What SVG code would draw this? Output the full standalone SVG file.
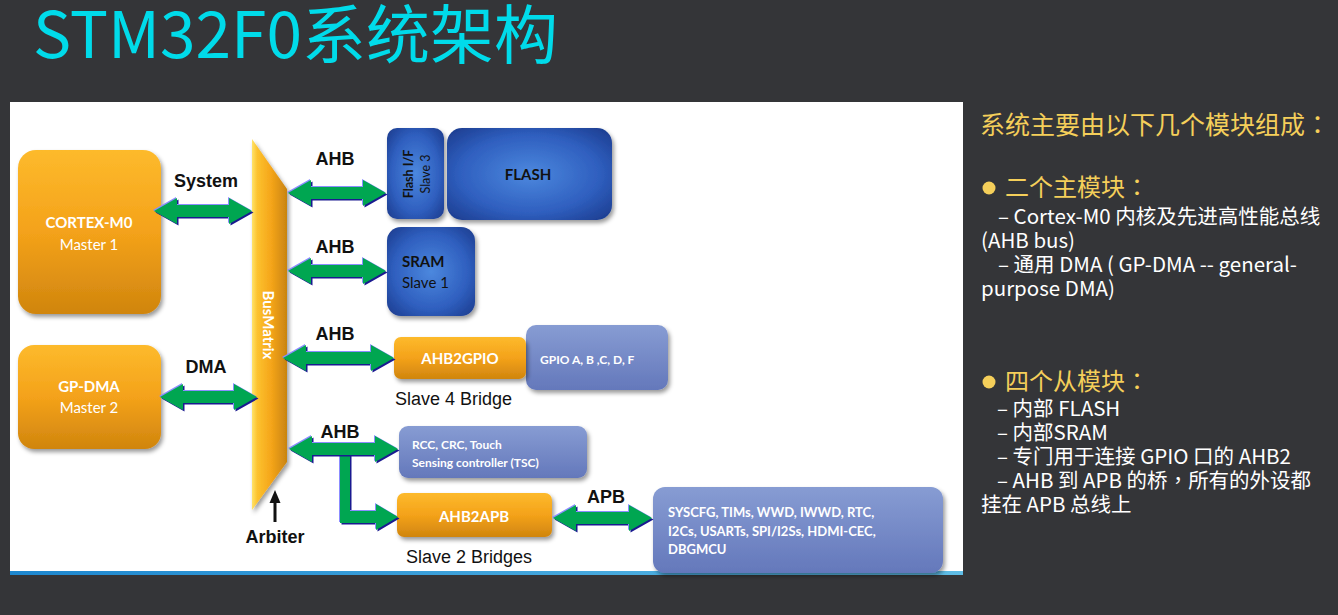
<svg xmlns="http://www.w3.org/2000/svg" xmlns:xlink="http://www.w3.org/1999/xlink" width="1338" height="615" viewBox="0 0 1338 615">
<style>
.lbl{font-family:"Liberation Sans",Arial,sans-serif;font-weight:bold;font-size:18px;fill:#111;}
.cap{font-family:"Liberation Sans",Arial,sans-serif;font-size:18px;fill:#111;}
.bx{font-family:Lato,"Open Sans",sans-serif;fill:#fff;}
.b{font-weight:bold;}
.sh{fill:#1a1a90;}
.hl{fill:#8c8cff;}
.gr{fill:#00a651;}
.yt{font-family:"Noto Sans CJK SC",sans-serif;fill:#f5cf5a;}
.wt{font-family:"Noto Sans CJK SC",sans-serif;fill:#ffffff;font-size:20.5px;}
.tc{font-family:"Noto Sans CJK TC",sans-serif;}
</style>
<defs>
<linearGradient id="og" x1="0" y1="0" x2="0" y2="1">
<stop offset="0" stop-color="#fdba2c"/><stop offset="0.5" stop-color="#f4a21a"/><stop offset="1" stop-color="#d0850e"/>
</linearGradient>
<radialGradient id="bg" cx="0.5" cy="0.5" r="0.7">
<stop offset="0" stop-color="#4c88de"/><stop offset="0.6" stop-color="#2f5fbf"/><stop offset="1" stop-color="#1b3a8c"/>
</radialGradient>
<linearGradient id="lb" x1="0" y1="0" x2="0" y2="1">
<stop offset="0" stop-color="#879cd3"/><stop offset="1" stop-color="#6478bb"/>
</linearGradient>
<linearGradient id="busg" x1="0" y1="0" x2="1" y2="0">
<stop offset="0" stop-color="#ffe36a"/><stop offset="0.15" stop-color="#fcc22e"/><stop offset="0.55" stop-color="#f5a51a"/><stop offset="1" stop-color="#c98410"/>
</linearGradient>
<linearGradient id="strip" x1="0" y1="0" x2="1" y2="0">
<stop offset="0" stop-color="#1d87cf"/><stop offset="1" stop-color="#5fbde6"/>
</linearGradient>
<filter id="ds" x="-10%" y="-10%" width="125%" height="130%">
<feDropShadow dx="2" dy="3" stdDeviation="2" flood-color="#000" flood-opacity="0.4"/>
</filter>
<polygon id="a_sys" points="154,211 177,198 177,205 229,205 229,198 252,211 229,224 229,217 177,217 177,224"/>
<polygon id="a_dma" points="160,397 183,384 183,391 234,391 234,384 257,397 234,410 234,403 183,403 183,410"/>
<polygon id="a_h1" points="288,193 311,180 311,187 363,187 363,180 386,193 363,206 363,199 311,199 311,206"/>
<polygon id="a_h2" points="288,271 311,258 311,265 363,265 363,258 386,271 363,284 363,277 311,277 311,284"/>
<polygon id="a_h3" points="283,358 306,345 306,352 371,352 371,345 394,358 371,371 371,364 306,364 306,371"/>
<polygon id="a_h4" points="289,449 312,436 312,443 375,443 375,436 398,449 375,462 375,455 312,455 312,462"/>
<polygon id="a_br" points="340,452 350,452 350,511 376,511 376,504 398,517 376,530 376,523 340,523"/>
<polygon id="a_apb" points="553,518 576,505 576,512 629,512 629,505 652,518 629,531 629,524 576,524 576,531"/>
</defs>

<rect x="0" y="0" width="1338" height="615" fill="#343538"/>
<rect x="10" y="102" width="953" height="473" fill="#ffffff"/>
<rect x="10" y="571" width="953" height="4" fill="url(#strip)"/>

<text x="33" y="58" font-family="'Noto Sans CJK SC',sans-serif" font-size="64" fill="#00dbea">STM32F0系统架构</text>

<g id="cortex">
<rect x="18" y="150" width="143" height="164" rx="18" fill="url(#og)" filter="url(#ds)"/>
<text class="bx b" x="89" y="228" font-size="15" text-anchor="middle">CORTEX-M0</text>
<text class="bx" x="89" y="250" font-size="15" text-anchor="middle">Master 1</text>
</g>
<g id="gpdma">
<rect x="18" y="345" width="143" height="104" rx="16" fill="url(#og)" filter="url(#ds)"/>
<text class="bx b" x="89" y="392" font-size="15" text-anchor="middle">GP-DMA</text>
<text class="bx" x="89" y="413" font-size="15" text-anchor="middle">Master 2</text>
</g>
<g id="busmatrix">
<polygon points="252,139 287,189 287,462 252,510" fill="url(#busg)" filter="url(#ds)"/>
<text class="bx b" x="269" y="325" font-size="15" text-anchor="middle" dominant-baseline="central" transform="rotate(90 269 325)">BusMatrix</text>
</g>
<g id="arbiter">
<rect x="273.5" y="500" width="3" height="22" fill="#111"/>
<polygon points="275,490 269.5,503 280.5,503" fill="#111"/>
<text class="lbl" x="275" y="543" text-anchor="middle">Arbiter</text>
</g>
<g id="flashif">
<rect x="387" y="128" width="57" height="91" rx="10" fill="url(#bg)" filter="url(#ds)"/>
<text class="bx b" x="0" y="0" font-size="12.5" text-anchor="middle" style="fill:#111" transform="translate(413 174) rotate(-90)">Flash I/F</text>
<text class="bx" x="0" y="0" font-size="12.5" text-anchor="middle" style="fill:#111" transform="translate(430 174) rotate(-90)">Slave 3</text>
</g>
<g id="flash">
<rect x="447" y="128" width="165" height="92" rx="15" fill="url(#bg)" filter="url(#ds)"/>
<text class="bx b" x="528" y="180" font-size="15" text-anchor="middle" style="fill:#111">FLASH</text>
</g>
<g id="sram">
<rect x="387" y="227" width="88" height="89" rx="14" fill="url(#bg)" filter="url(#ds)"/>
<text class="bx b" x="402" y="267" font-size="15" style="fill:#111">SRAM</text>
<text class="bx" x="402" y="288" font-size="15" style="fill:#111">Slave 1</text>
</g>
<g id="gpio">
<rect x="526" y="325" width="142" height="65" rx="10" fill="url(#lb)" filter="url(#ds)"/>
<text class="bx b" x="540" y="364" font-size="12">GPIO A, B ,C, D, F</text>
</g>
<g id="ahb2gpio">
<rect x="394" y="337" width="132" height="42" rx="7" fill="url(#og)" filter="url(#ds)"/>
<text class="bx b" x="460" y="364" font-size="15" text-anchor="middle">AHB2GPIO</text>
<text class="cap" x="395" y="405">Slave 4 Bridge</text>
</g>
<g id="rcc">
<rect x="399" y="426" width="188" height="52" rx="9" fill="url(#lb)" filter="url(#ds)"/>
<text class="bx b" x="412" y="449" font-size="12">RCC, CRC, Touch</text>
<text class="bx b" x="412" y="467" font-size="12">Sensing controller (TSC)</text>
</g>
<g id="ahb2apb">
<rect x="397" y="493" width="155" height="44" rx="7" fill="url(#og)" filter="url(#ds)"/>
<text class="bx b" x="474" y="522" font-size="15" text-anchor="middle">AHB2APB</text>
<text class="cap" x="406" y="563">Slave 2 Bridges</text>
</g>
<g id="apbperiph">
<rect x="653" y="487" width="290" height="86" rx="12" fill="url(#lb)" filter="url(#ds)"/>
<text class="bx b" x="668" y="517" font-size="13">SYSCFG, TIMs, WWD, IWWD, RTC,</text>
<text class="bx b" x="668" y="536" font-size="13">I2Cs, USARTs, SPI/I2Ss, HDMI-CEC,</text>
<text class="bx b" x="668" y="554" font-size="13">DBGMCU</text>
</g>

<g id="connectors">
<use xlink:href="#a_sys" class="sh" transform="translate(1.5,1.5)"/><use xlink:href="#a_sys" class="hl" transform="translate(-1,-1)"/><use xlink:href="#a_sys" class="gr"/>
<use xlink:href="#a_dma" class="sh" transform="translate(1.5,1.5)"/><use xlink:href="#a_dma" class="hl" transform="translate(-1,-1)"/><use xlink:href="#a_dma" class="gr"/>
<use xlink:href="#a_h1" class="sh" transform="translate(1.5,1.5)"/><use xlink:href="#a_h1" class="hl" transform="translate(-1,-1)"/><use xlink:href="#a_h1" class="gr"/>
<use xlink:href="#a_h2" class="sh" transform="translate(1.5,1.5)"/><use xlink:href="#a_h2" class="hl" transform="translate(-1,-1)"/><use xlink:href="#a_h2" class="gr"/>
<use xlink:href="#a_h3" class="sh" transform="translate(1.5,1.5)"/><use xlink:href="#a_h3" class="hl" transform="translate(-1,-1)"/><use xlink:href="#a_h3" class="gr"/>
<use xlink:href="#a_br" class="sh" transform="translate(1.5,1.5)"/><use xlink:href="#a_br" class="hl" transform="translate(-1,-1)"/><use xlink:href="#a_br" class="gr"/>
<use xlink:href="#a_h4" class="sh" transform="translate(1.5,1.5)"/><use xlink:href="#a_h4" class="hl" transform="translate(-1,-1)"/><use xlink:href="#a_h4" class="gr"/>
<use xlink:href="#a_apb" class="sh" transform="translate(1.5,1.5)"/><use xlink:href="#a_apb" class="hl" transform="translate(-1,-1)"/><use xlink:href="#a_apb" class="gr"/>
<text class="lbl" x="206" y="187" text-anchor="middle">System</text>
<text class="lbl" x="206" y="373" text-anchor="middle">DMA</text>
<text class="lbl" x="335" y="165" text-anchor="middle">AHB</text>
<text class="lbl" x="335" y="253" text-anchor="middle">AHB</text>
<text class="lbl" x="335" y="340" text-anchor="middle">AHB</text>
<text class="lbl" x="340" y="438" text-anchor="middle">AHB</text>
<text class="lbl" x="606" y="503" text-anchor="middle">APB</text>
</g>

<g id="notes">
<text class="yt" x="980" y="134" font-size="25">系统主要由以下几个模块组成<tspan class="tc">：</tspan></text>
<circle cx="989" cy="188" r="6.5" fill="#f5cf5a"/>
<text class="yt" x="1005" y="196" font-size="24">二个主模块<tspan class="tc">：</tspan></text>
<text class="wt"><tspan x="998" y="224">– Cortex-M0 内核及先进高性能总线</tspan><tspan x="981" dy="24">(AHB bus)</tspan><tspan x="998" dy="24">– 通用 DMA ( GP-DMA -- general-</tspan><tspan x="981" dy="24">purpose DMA)</tspan></text>
<circle cx="989" cy="382" r="6.5" fill="#f5cf5a"/>
<text class="yt" x="1005" y="390" font-size="24">四个从模块<tspan class="tc">：</tspan></text>
<text class="wt"><tspan x="997" y="416">– 内部 FLASH</tspan><tspan x="997" dy="24">– 内部SRAM</tspan><tspan x="997" dy="24">– 专门用于连接 GPIO 口的 AHB2</tspan><tspan x="997" dy="24">– AHB 到 APB 的桥<tspan class="tc">，</tspan>所有的外设都</tspan><tspan x="981" dy="24">挂在 APB 总线上</tspan></text>
</g>
</svg>
